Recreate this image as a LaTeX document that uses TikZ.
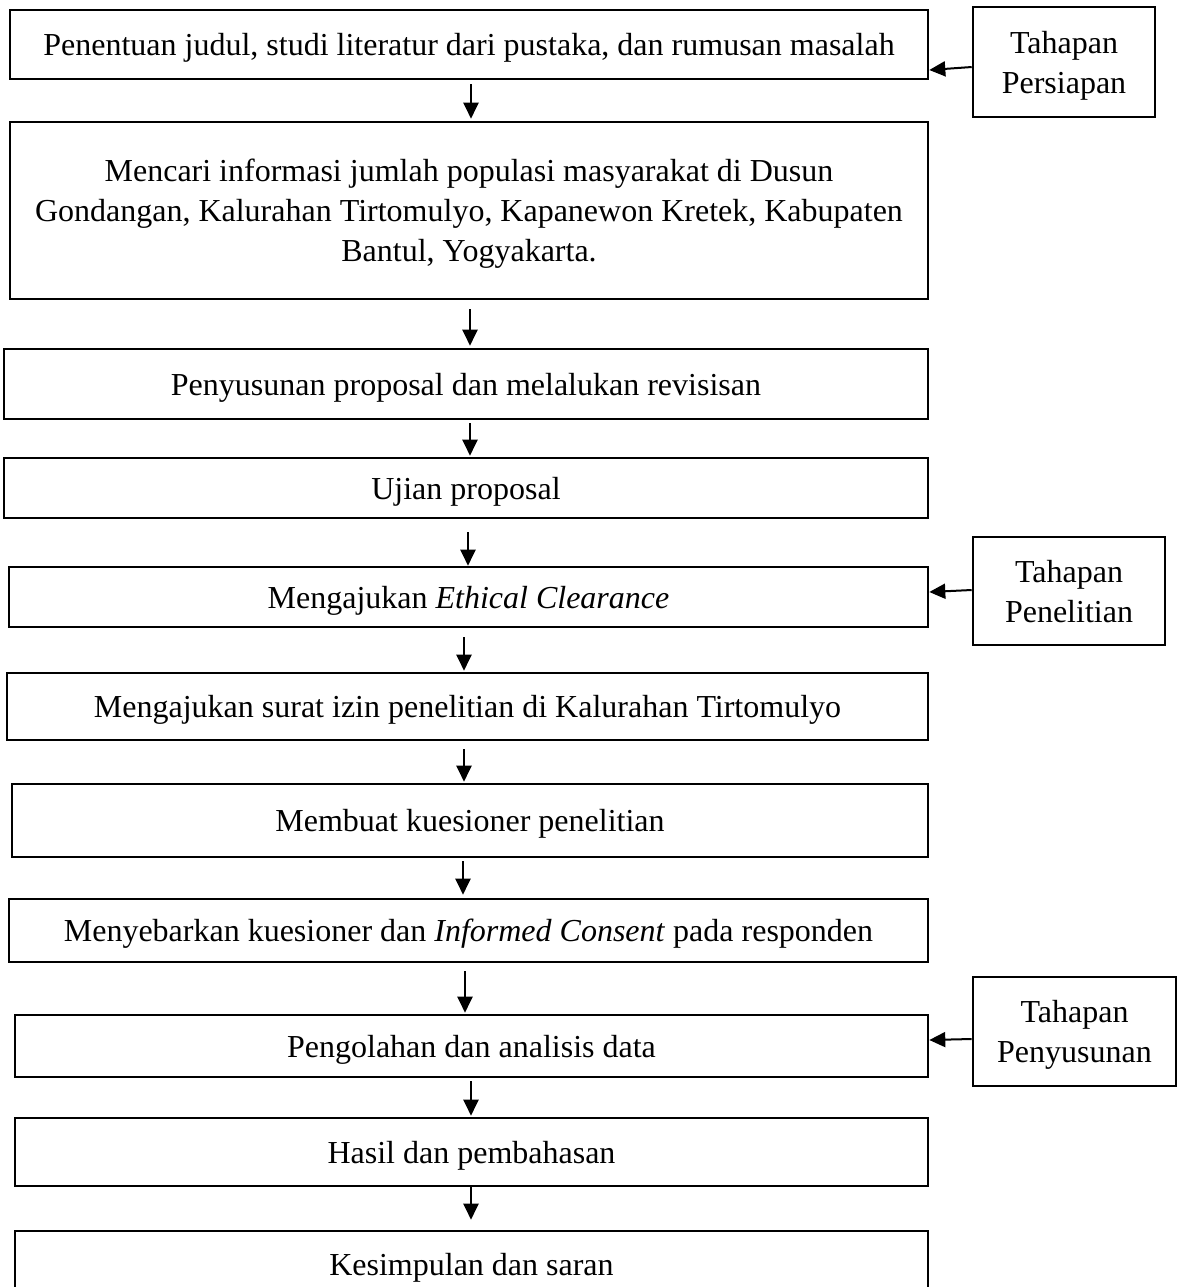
\documentclass[tikz,border=0pt]{standalone}
\usepackage{fontspec}
\setmainfont{Liberation Serif}
\usetikzlibrary{arrows.meta}

\begin{document}
\begin{tikzpicture}[
    x=0.5pt, y=-0.5pt,
    every node/.style={font=\fontsize{16}{20}\selectfont, align=center, inner sep=0pt, text depth=0pt},
    langkah/.style={draw, line width=1.3pt, rectangle},
    tahap/.style={draw, line width=1.3pt, rectangle},
    flow/.style={-{Triangle[length=8pt,width=7.5pt]}, line width=1pt}
]
    \useasboundingbox (0,0) rectangle (1181,1287);

    \node[langkah, minimum width=459pt, minimum height=34.5pt] (judul) at (469,44.5)
        {Penentuan judul, studi literatur dari pustaka, dan rumusan masalah};
    \node[langkah, minimum width=459pt, minimum height=88.5pt] (info) at (469,210.5)
        {Mencari informasi jumlah populasi masyarakat di Dusun\\
         Gondangan, Kalurahan Tirtomulyo, Kapanewon Kretek, Kabupaten\\
         Bantul, Yogyakarta.};
    \node[langkah, minimum width=462pt, minimum height=35pt] (proposal) at (466,384)
        {Penyusunan proposal dan melalukan revisisan};
    \node[langkah, minimum width=462pt, minimum height=30pt] (ujian) at (466,488)
        {Ujian proposal};
    \node[langkah, minimum width=459.5pt, minimum height=30pt] (ethical) at (468.5,597)
        {Mengajukan \textit{Ethical Clearance}};
    \node[langkah, minimum width=460.5pt, minimum height=33.5pt] (izin) at (467.5,706.5)
        {Mengajukan surat izin penelitian di Kalurahan Tirtomulyo};
    \node[langkah, minimum width=458pt, minimum height=36.5pt] (kuesioner) at (470,820.5)
        {Membuat kuesioner penelitian};
    \node[langkah, minimum width=459.5pt, minimum height=31.5pt] (sebar) at (468.5,930.5)
        {Menyebarkan kuesioner dan \textit{Informed Consent} pada responden};
    \node[langkah, minimum width=456.5pt, minimum height=31pt] (olah) at (471.5,1046)
        {Pengolahan dan analisis data};
    \node[langkah, minimum width=456.5pt, minimum height=34pt] (hasil) at (471.5,1152)
        {Hasil dan pembahasan};
    \node[langkah, minimum width=456.5pt, minimum height=33.5pt] (simpulan) at (471.5,1264.5)
        {Kesimpulan dan saran};

    \node[tahap, minimum width=91pt, minimum height=55pt] (persiapan) at (1064,62)
        {Tahapan\\Persiapan};
    \node[tahap, minimum width=96pt, minimum height=54pt] (penelitian) at (1069,591)
        {Tahapan\\Penelitian};
    \node[tahap, minimum width=101.5pt, minimum height=54.5pt] (penyusunan) at (1074.5,1031.5)
        {Tahapan\\Penyusunan};

    \foreach \a/\b/\x/\s/\e in {judul/info/471/2/1, info/proposal/470/4.5/1,
        proposal/ujian/470/1.5/0.5, ujian/ethical/468/6.5/0, ethical/izin/464/4.5/0.5,
        izin/kuesioner/464/4/0.5, kuesioner/sebar/463/1.5/1.5, sebar/olah/465/4/0.5,
        olah/hasil/471/1.5/0.5, hasil/simpulan/471/0/5}
        \draw[flow, shorten <=\s pt, shorten >=\e pt] (\x,0 |- \a.south) -- (\x,0 |- \b.north);

    \draw[flow] ([yshift=-2.5pt]persiapan.west) -- ([yshift=-4pt]persiapan.west -| judul.east);
    \draw[flow] ([yshift=0.5pt]penelitian.west) -- ([yshift=-0.5pt]penelitian.west -| ethical.east);
    \draw[flow] ([yshift=-3.75pt]penyusunan.west) -- ([yshift=-4.25pt]penyusunan.west -| olah.east);
\end{tikzpicture}
\end{document}
